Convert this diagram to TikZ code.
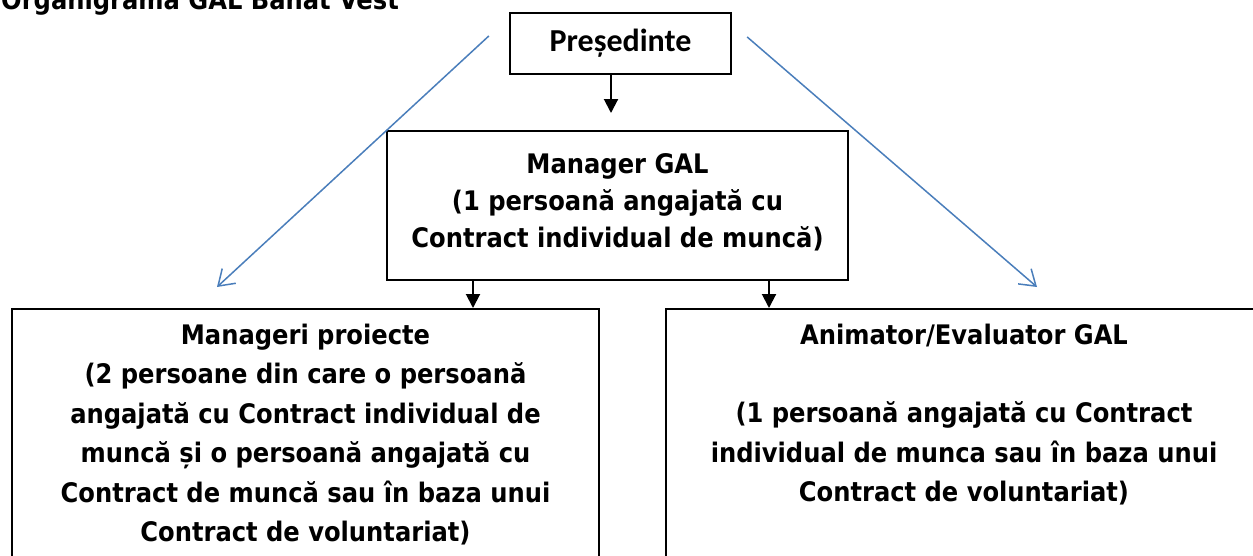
\documentclass[tikz,border=0pt]{standalone}
\usepackage{fontspec}
\usetikzlibrary{arrows.meta}
\newfontfamily\boxfont{DejaVu Sans Condensed}
\newfontfamily\presfont{Carlito}
\definecolor{linkblue}{HTML}{4A7EBB}

\begin{document}
\begin{tikzpicture}[x=1pt, y=-1pt,
	box/.style={draw, line width=2.4pt, inner sep=0pt, align=center, font=\boxfont\bfseries\fontsize{26.9}{37}\selectfont},
	bigbox/.style={box, anchor=north, inner ysep=14.6pt, text depth=60pt, font=\boxfont\bfseries\fontsize{26.9}{39.5}\selectfont},
	flow/.style={line width=2pt, -{Triangle[width=14pt,length=14pt]}},
	link/.style={linkblue, line width=1.5pt, -{Straight Barb[length=15pt,width=20pt]}}]
	%%%%% START %%%%%
	
	\useasboundingbox (0,0) rectangle (1253,555);
	
	\node[anchor=base west, inner sep=0pt, font=\boxfont\bfseries\fontsize{26.9}{34}\selectfont] (ttl) at (1,9) {Organigrama GAL Banat Vest};
	
	\node[box, font=\presfont\bfseries\fontsize{32}{38}\selectfont, minimum width=221pt, minimum height=61pt] (pres) at (620.5,43.5) {Președinte};
	
	\node[box, anchor=north, minimum width=461pt, inner ysep=22.6pt, text depth=9.4pt] (mgr) at (617.5,130) {Manager GAL\\(1 persoană angajată cu\\Contract individual de muncă)};
	
	\node[bigbox, minimum width=587pt] (mproi) at (305.5,308) {Manageri proiecte\\(2 persoane din care o persoană\\angajată cu Contract individual de\\muncă și o persoană angajată cu\\Contract de muncă sau în baza unui\\Contract de voluntariat)};
	
	\node[bigbox, minimum width=596pt] (anim) at (964,308) {Animator/Evaluator GAL\\[39pt](1 persoană angajată cu Contract\\individual de munca sau în baza unui\\Contract de voluntariat)};
	
	% black arrows
	\coordinate (pt) at (611,113);
	\draw[flow] (pres.south -| pt) -- (pt);
	\draw[flow] ([xshift=-144.5pt]mgr.south) -- ([xshift=-144.5pt]mgr.south |- mproi.north);
	\draw[flow] ([xshift=151.5pt]mgr.south) -- ([xshift=151.5pt]mgr.south |- anim.north);
	
	% blue arrows
	\coordinate (lt) at (217,287);
	\coordinate (rt) at (1037,287);
	\draw[link] ([xshift=-20pt,yshift=7.5pt]pres.west) -- (lt);
	\draw[link] ([xshift=15pt,yshift=6.5pt]pres.east) -- (rt);
	
	%%%%% END %%%%%
\end{tikzpicture}
\end{document}
